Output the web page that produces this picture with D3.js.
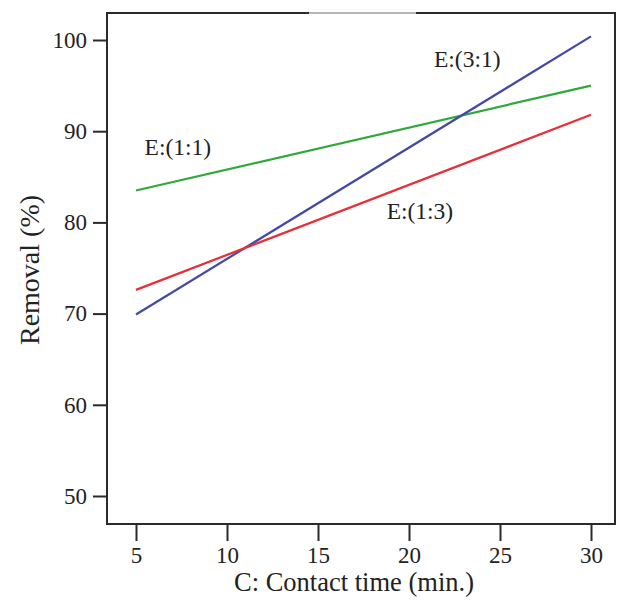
<!DOCTYPE html>
<html>
<head>
<meta charset="utf-8">
<script src="https://cdn.jsdelivr.net/npm/d3@7"></script>
<style>
  html, body { margin: 0; padding: 0; background: #fff; }
  svg { display: block; }
  svg text { font-family: "Liberation Serif", "Times New Roman", Times, serif; fill: #222; }
</style>
</head>
<body>
<svg id="chart" width="622" height="606"></svg>
<script>
// Data
const contactTime = [5, 30];
const seriesNames = ["E:(1:1)", "E:(3:1)", "E:(1:3)"];
const removal11 = [83.5, 95.0];
const removal31 = [69.9, 100.4];
const removal13 = [72.6, 91.8];
const seriesColors = ["#2fa83c", "#4549a6", "#e5303a"];
const labelX = [7.3, 23.2, 20.6];
const labelY = [87.4, 97.0, 80.4];
const xTicks = [5, 10, 15, 20, 25, 30];
const yTicks = [50, 60, 70, 80, 90, 100];

const FONT = '"Liberation Serif", "Times New Roman", Times, serif';
const svg = d3.select("#chart");
const frameL = 107, frameR = 615, frameT = 13, frameB = 524;

const x = d3.scaleLinear().domain([5, 30]).range([136, 591]);
const y = d3.scaleLinear().domain([50, 100]).range([496, 40]);

// frame
svg.append("rect")
  .attr("x", frameL).attr("y", frameT)
  .attr("width", frameR - frameL).attr("height", frameB - frameT)
  .attr("fill", "none").attr("stroke", "#2a2a2a").attr("stroke-width", 2);
// lighter segment on top border
svg.append("line")
  .attr("x1", 309).attr("x2", 416).attr("y1", frameT).attr("y2", frameT)
  .attr("stroke", "#b5b5b5").attr("stroke-width", 2);

// axes
const xAxis = svg.append("g")
  .attr("transform", `translate(0,${frameB})`)
  .call(d3.axisBottom(x).tickValues(xTicks).tickSize(17).tickPadding(6).tickFormat(d3.format("d")));
xAxis.select(".domain").remove();
xAxis.selectAll("line").attr("stroke", "#2a2a2a").attr("stroke-width", 2);
xAxis.selectAll("text").style("font-size", "23px").style("font-family", FONT).style("fill", "#222");

const yAxis = svg.append("g")
  .attr("transform", `translate(${frameL},0)`)
  .call(d3.axisLeft(y).tickValues(yTicks).tickSize(14).tickPadding(6).tickFormat(d3.format("d")));
yAxis.select(".domain").remove();
yAxis.selectAll("line").attr("stroke", "#2a2a2a").attr("stroke-width", 2);
yAxis.selectAll("text").style("font-size", "23px").style("font-family", FONT).style("fill", "#222");

// titles
svg.append("text")
  .attr("x", 354).attr("y", 591)
  .attr("text-anchor", "middle")
  .style("font-size", "26.5px").style("font-family", FONT)
  .text("C: Contact time (min.)");
svg.append("text")
  .attr("transform", "translate(39,270) rotate(-90)")
  .attr("text-anchor", "middle")
  .style("font-size", "28px").style("font-family", FONT)
  .text("Removal (%)");

// lines
const allSeries = [removal11, removal31, removal13];
const line = d3.line().x((d, i) => x(contactTime[i])).y(d => y(d));
allSeries.forEach((vals, k) => {
  svg.append("path")
    .datum(vals)
    .attr("d", line)
    .attr("fill", "none")
    .attr("stroke", seriesColors[k])
    .attr("stroke-width", 2.2);
});

// labels
seriesNames.forEach((name, k) => {
  svg.append("text")
    .attr("x", x(labelX[k])).attr("y", y(labelY[k]))
    .attr("text-anchor", "middle")
    .style("font-size", "23.5px").style("font-family", FONT)
    .text(name);
});
</script>
</body>
</html>
